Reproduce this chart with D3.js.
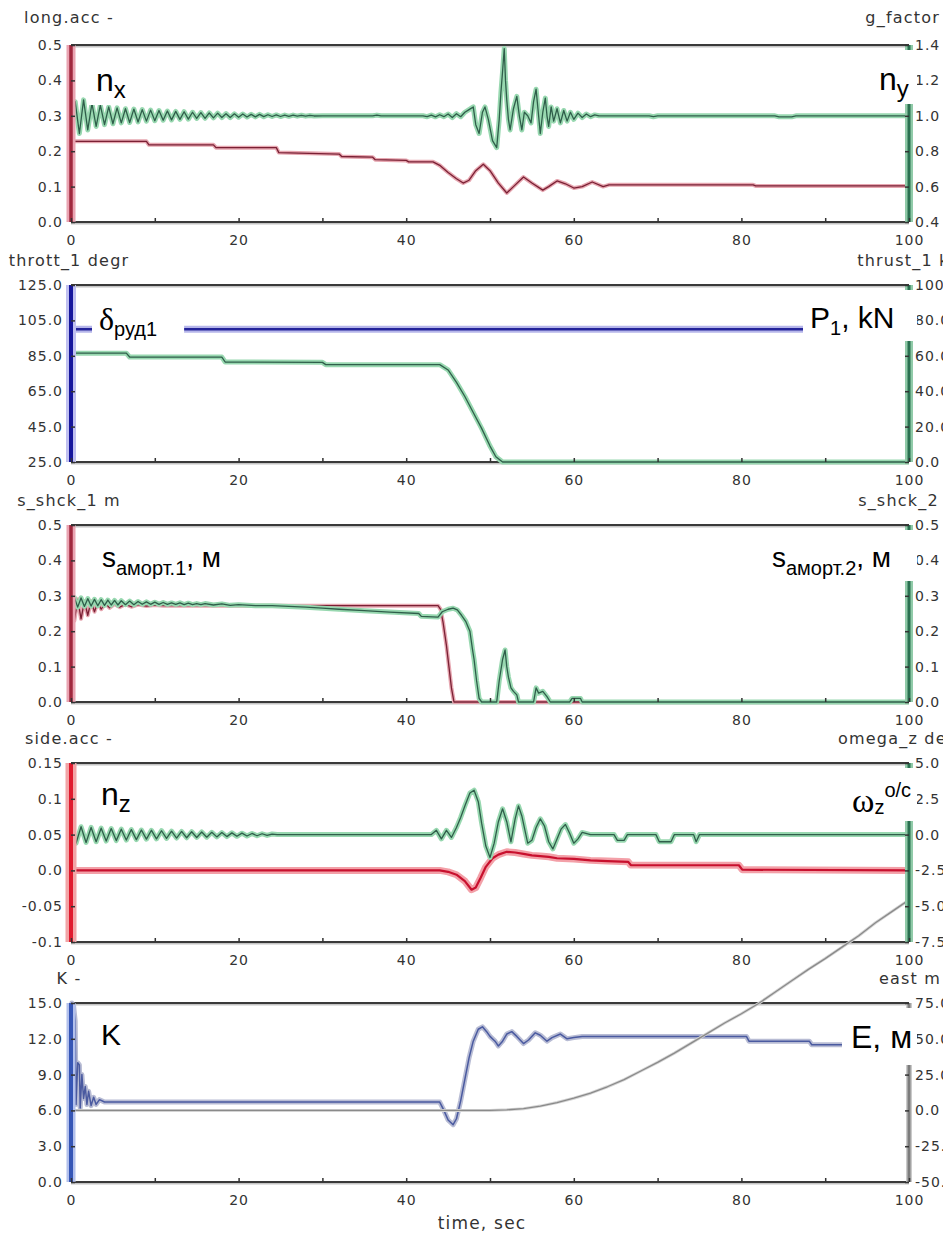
<!DOCTYPE html>
<html>
<head>
<meta charset="utf-8">
<script src="https://cdn.jsdelivr.net/npm/d3@7"></script>
<style>
  body { margin: 0; background: #fff; }
  svg { display: block; }
  .tick text { font-family: "DejaVu Sans", sans-serif; font-size: 14px; fill: #333; letter-spacing: 1px; }
  .ttl { font-family: "DejaVu Sans", sans-serif; font-size: 16px; fill: #333; letter-spacing: 1.2px; }
  .lbl { font-family: Arial, "Liberation Sans", sans-serif; fill: #000; }
</style>
</head>
<body>
<div id="chart"></div>
<script>
(function() {
"use strict";

// ---- data (time sec, value) ----
const X_TICKS = [0, 10, 20, 30, 40, 50, 60, 70, 80, 90, 100];

const longAcc = [[0,0.228],[9,0.228],[9.3,0.218],[17,0.218],[17.3,0.21],[24.5,0.21],[24.8,0.196],[32,0.192],[32.3,0.185],[36,0.183],[36.3,0.176],[40,0.174],[40.3,0.17],[43.2,0.17],[44,0.16],[45,0.14],[46,0.122],[46.8,0.11],[47.5,0.118],[48.3,0.145],[49.2,0.163],[50,0.145],[51,0.11],[52,0.082],[52.8,0.1],[54,0.127],[55,0.11],[56.3,0.09],[57,0.1],[58,0.116],[59,0.108],[60,0.096],[61,0.1],[62.2,0.113],[63.5,0.1],[64.2,0.105],[81.4,0.105],[81.7,0.102],[100,0.102]];

const gFactor = [[0,0.93],[0.5,1.08],[1,0.90],[1.5,1.09],[2,0.92],[2.5,1.07],[3,0.94],[3.5,1.06],[4,0.95],[4.5,1.05],
  [5,0.955],[5.5,1.045],[6,0.96],[6.5,1.04],[7,0.962],[7.5,1.038],[8,0.965],[8.5,1.035],[9,0.97],[9.5,1.032],
  [10,0.972],[10.5,1.03],[11,0.975],[11.5,1.027],[12,0.977],[12.5,1.025],[13,0.98],[13.5,1.023],[14,0.981],[14.5,1.02],
  [15,0.985],[15.5,1.018],[16,0.986],[16.5,1.016],[17,0.988],[17.5,1.015],[18,0.99],[18.5,1.012],[19,0.99],[19.5,1.011],
  [20,0.992],[20.5,1.01],[21,0.993],[21.5,1.008],[22,0.994],[22.5,1.008],[23,0.995],[23.5,1.006],[24,0.996],[24.5,1.005],
  [25,0.996],[25.5,1.004],[26,0.997],[26.5,1.004],[27,0.998],[27.5,1.003],[28,0.998],[28.5,1.002],[29,0.999],[30,1.0],
  [36,1.0],[36.5,1.004],[37,1.0],[42,1.0],[42.5,0.995],[43,1.004],[43.5,0.994],[44,1.006],[44.5,0.995],[45,1.01],
  [45.5,0.99],[46,1.012],[46.5,0.995],[47,1.02],[47.5,1.035],[48,1.05],[48.3,0.95],[48.7,0.90],[49.1,1.02],[49.4,1.05],
  [49.8,0.98],[50.3,0.86],[50.8,0.82],[51.1,0.98],[51.3,1.13],[51.5,1.25],[51.7,1.38],[51.85,1.2],[52,1.09],[52.2,0.98],
  [52.4,0.92],[52.8,1.04],[53.2,1.11],[53.5,1.0],[53.8,0.92],[54.1,1.02],[54.5,1.0],[54.9,0.96],[55.2,1.08],[55.5,1.15],
  [55.8,1.0],[56,0.90],[56.3,1.02],[56.6,1.10],[56.8,1.0],[57,0.94],[57.3,1.05],[57.6,0.97],[58,1.04],[58.4,0.96],
  [58.8,1.03],[59.2,0.97],[59.6,1.02],[60,0.98],[60.5,1.015],[61,0.99],[61.5,1.01],[62,0.995],[62.5,1.005],[63,1.0],
  [69,1.0],[69.5,0.995],[70,1.0],[84,1.0],[84.5,0.994],[86,0.994],[86.5,1.0],[100,1.0]];

const throttle = [[0,100],[100,100]];
const thrust = [[0,61.5],[6.6,61.5],[7.0,59.3],[18,59.3],[18.4,56.5],[30,56.3],[30.4,55.0],[44,55.0],[45,52],[46,45],[47,37],[48,28],[49,19],[50,9],[50.7,3],[51.5,0],[100,0]];

const shock1 = [[0,0.29],[0.4,0.23],[0.8,0.29],[1.2,0.235],[1.6,0.285],[2.0,0.245],[2.4,0.285],[2.8,0.255],[3.2,0.282],[3.6,0.262],[4.1,0.279],[4.6,0.266],[5.2,0.277],[5.8,0.268],[6.5,0.276],[7.2,0.269],[8,0.275],[9,0.271],[10,0.274],[11,0.272],[43.8,0.272],[44.1,0.262],[44.4,0.225],[44.8,0.16],[45.1,0.1],[45.4,0.04],[45.7,0],[100,0]];

const shock2 = [[0,0.27],[0.4,0.295],[0.8,0.268],[1.2,0.294],[1.6,0.27],[2,0.292],[2.4,0.271],[2.8,0.29],[3.2,0.272],[3.6,0.289],
  [4,0.273],[4.4,0.288],[4.8,0.274],[5.2,0.287],[5.6,0.274],[6,0.286],[6.5,0.275],[7,0.285],[7.5,0.275],[8,0.284],
  [8.5,0.276],[9,0.283],[9.5,0.276],[10,0.282],[10.5,0.276],[11,0.281],[11.5,0.276],[12,0.28],[12.5,0.276],[13,0.28],
  [13.5,0.275],[14,0.279],[14.5,0.275],[15,0.278],[15.5,0.275],[16,0.278],[17,0.274],[18,0.277],[19,0.273],[20,0.275],
  [22,0.272],[24,0.272],[26,0.27],[28,0.268],[30,0.265],[32,0.262],[35,0.258],[38,0.254],[41.5,0.25],[41.8,0.242],
  [43.8,0.24],[44.3,0.255],[45,0.262],[45.6,0.265],[46.1,0.26],[46.6,0.245],[47.1,0.228],[47.6,0.2],[47.9,0.15],[48.1,0.12],
  [48.4,0.06],[48.7,0.01],[49,0],[50.8,0],[51.1,0.06],[51.5,0.12],[51.8,0.147],[52,0.1],[52.2,0.07],[52.5,0.04],
  [52.8,0.03],[53.2,0.02],[53.4,0],[55.2,0],[55.5,0.04],[55.8,0.025],[56.3,0.03],[56.8,0.015],[57.2,0],[59.5,0],
  [59.8,0.01],[60.8,0.01],[61,0],[100,0]];

const sideAcc = [[0,0],[44,0],[45,-0.002],[46,-0.006],[47,-0.015],[47.8,-0.027],[48.3,-0.024],[48.9,-0.01],[49.5,0.005],[50.3,0.017],[51,0.022],[52,0.026],[53,0.025],[54,0.023],[55,0.021],[56,0.02],[57,0.019],[58,0.017],[60,0.016],[62,0.014],[64,0.013],[66.5,0.012],[66.8,0.0075],[79.7,0.0072],[80.1,0.001],[100,0]];

const omegaZ = [[0,0.5],[0.6,-0.6],[1.2,0.55],[1.8,-0.55],[2.4,0.5],[3,-0.5],[3.6,0.45],[4.2,-0.45],[4.8,0.42],[5.4,-0.42],
  [6,0.38],[6.6,-0.38],[7.2,0.35],[7.8,-0.35],[8.4,0.32],[9,-0.32],[9.6,0.3],[10.2,-0.3],[10.8,0.27],[11.4,-0.27],
  [12,0.24],[12.6,-0.24],[13.2,0.22],[13.8,-0.22],[14.4,0.2],[15,-0.2],[15.6,0.18],[16.2,-0.18],[16.8,0.16],[17.4,-0.16],
  [18,0.14],[18.6,-0.14],[19.2,0.12],[19.8,-0.12],[20.4,0.1],[21,-0.1],[21.6,0.08],[22.2,-0.08],[22.8,0.06],[23.4,-0.06],
  [24,0.04],[24.6,0],[43,0],[43.6,0.3],[44.2,-0.3],[44.8,0.3],[45.4,-0.2],[46,0.5],[46.5,1.2],[47,2.0],
  [47.6,2.9],[48.1,3.1],[48.6,2.3],[49,0.8],[49.5,-0.8],[50,-1.6],[50.5,-0.6],[51,0.9],[51.5,1.8],[52,0.9],
  [52.5,-0.5],[53,1.1],[53.4,2.0],[53.8,1.3],[54.5,-0.6],[55,-0.4],[55.5,0.5],[56,1.1],[56.5,0.6],[57,-0.5],
  [57.5,-1.0],[58,-0.3],[58.5,0.4],[59,0.7],[59.5,0.1],[60,-0.6],[60.5,-0.3],[61,0.15],[62,0],[64.8,0],
  [65.2,-0.4],[66,-0.4],[66.4,0],[69.8,0],[70.2,-0.5],[71.6,-0.5],[72,0],[74.3,0],[74.6,-0.5],[75,0],[100,0]];

const kCoef = [[0,0],[0.1,15],[0.3,14.8],[0.5,13.5],[0.6,6.5],[0.8,10],[1.0,9.8],[1.1,6.2],[1.3,9],[1.5,7],[1.7,8],[1.9,6.5],[2.1,7.6],[2.4,6.4],[2.7,7.1],[3,6.5],[3.4,6.9],[4,6.7],[44,6.7],[44.5,6.0],[45,5.2],[45.6,4.8],[46,5.3],[46.5,6.8],[47,8.6],[47.5,10.4],[48,11.8],[48.6,12.8],[49.1,13.0],[49.6,12.6],[50,12.2],[50.6,11.8],[51,11.4],[51.5,11.8],[52,12.4],[52.6,12.6],[53.2,12.2],[54,11.6],[54.6,11.9],[55.4,12.5],[56,12.3],[56.8,11.8],[57.4,12.1],[58.4,12.4],[59.2,12.0],[60,12.1],[61,12.2],[80.6,12.2],[80.9,11.8],[88.1,11.8],[88.4,11.5],[92,11.5]];

const east = [[0,0],[50,0],[52,0.4],[54,1.2],[56,3],[58,5.5],[60,8.5],[62,12],[64,16.5],[66,21.5],[68,27.5],[70,33.5],[72,40],[74,47],[76,54],[78,61],[80,67.5],[82,74.5],[84,82.5],[86,90.5],[88,98.5],[90,106],[92,114],[94,122],[96,131],[98,139],[100,147]];

// tick values and their printed labels
const accTicks = [0, 0.1, 0.2, 0.3, 0.4, 0.5], accLabels = ["0.0","0.1","0.2","0.3","0.4","0.5"];
const gTicks = [0.4, 0.6, 0.8, 1.0, 1.2, 1.4], gLabels = ["0.4","0.6","0.8","1.0","1.2","1.4"];
const throtTicks = [25, 45, 65, 85, 105, 125], throtLabels = ["25.0","45.0","65.0","85.0","105.0","125.0"];
const thrustTicks = [0, 20, 40, 60, 80, 100], thrustLabels = ["0.0","20.0","40.0","60.0","80.0","100.0"];
const shockTicks = [0, 0.1, 0.2, 0.3, 0.4, 0.5], shockLabels = ["0.0","0.1","0.2","0.3","0.4","0.5"];
const sideTicks = [-0.1, -0.05, 0, 0.05, 0.1, 0.15], sideLabels = ["-0.1","-0.05","0.0","0.05","0.1","0.15"];
const omegaTicks = [-7.5, -5, -2.5, 0, 2.5, 5], omegaLabels = ["-7.5","-5.0","-2.5","0.0","2.5","5.0"];
const kTicks = [0, 3, 6, 9, 12, 15], kLabels = ["0.0","3.0","6.0","9.0","12.0","15.0"];
const eastTicks = [-50, -25, 0, 25, 50, 75], eastLabels = ["-50.0","-25.0","0.0","25.0","50.0","75.0"];

// ---- styles ----
const RED   = { halo: "#e6a6b0", core: "#7a2034", hw: 4, cw: 1.3 };
const RED2  = { halo: "#f3a0a8", core: "#c8102e", hw: 7, cw: 2.2 };
const GREEN = { halo: "#98d8b0", core: "#2f5e4a", hw: 5, cw: 1.3 };
const BLUE  = { halo: "#b6b6ea", core: "#24249a", hw: 7, cw: 2.5 };
const BLUEK = { halo: "#b8bcd4", core: "#4a5aa0", hw: 5, cw: 1.5 };
const GRAY  = { halo: "#d4d4d4", core: "#8a8a8a", hw: 3, cw: 1.3 };

const barRed   = { halo: "#eaa4b2", core: "#a0283e", hw: 9, cw: 3.5 };
const barRed4  = { halo: "#f2a4a6", core: "#e01a2e", hw: 11, cw: 4 };
const barBlue  = { halo: "#c0c0f0", core: "#16169c", hw: 10, cw: 4 };
const barBlue5 = { halo: "#b2c0ec", core: "#3656b6", hw: 9, cw: 4 };
const barGreen = { halo: "#90caa8", core: "#2a7050", hw: 8, cw: 3 };
const barGray  = { halo: "#cacaca", core: "#7c7c7c", hw: 6, cw: 3 };

const W = 943, H = 1240;
const X0 = 71, X1 = 909;

const panels = [
  { top: 45, bottom: 222, titleUp: 22,
    left:  { domain: [0, 0.5], ticks: accTicks, labels: accLabels, title: "long.acc -", bar: barRed },
    right: { domain: [0.4, 1.4], ticks: gTicks, labels: gLabels, title: "g_factor", bar: barGreen },
    series: [ { data: longAcc, side: "left", st: RED }, { data: gFactor, side: "right", st: GREEN } ] },
  { top: 285, bottom: 462, titleUp: 19,
    left:  { domain: [25, 125], ticks: throtTicks, labels: throtLabels, title: "thrott_1 degr", bar: barBlue },
    right: { domain: [0, 100], ticks: thrustTicks, labels: thrustLabels, title: "thrust_1 kN", bar: barGreen },
    series: [ { data: throttle, side: "left", st: BLUE }, { data: thrust, side: "right", st: GREEN } ] },
  { top: 525, bottom: 702, titleUp: 19,
    left:  { domain: [0, 0.5], ticks: shockTicks, labels: shockLabels, title: "s_shck_1 m", bar: barRed },
    right: { domain: [0, 0.5], ticks: shockTicks, labels: shockLabels, title: "s_shck_2 m", bar: barGreen },
    series: [ { data: shock1, side: "left", st: RED }, { data: shock2, side: "right", st: GREEN } ] },
  { top: 763, bottom: 942, titleUp: 19,
    left:  { domain: [-0.1, 0.15], ticks: sideTicks, labels: sideLabels, title: "side.acc -", bar: barRed4 },
    right: { domain: [-7.5, 5], ticks: omegaTicks, labels: omegaLabels, title: "omega_z degr/s", bar: barGreen },
    series: [ { data: sideAcc, side: "left", st: RED2 }, { data: omegaZ, side: "right", st: GREEN } ] },
  { top: 1003, bottom: 1182, titleUp: 19,
    left:  { domain: [0, 15], ticks: kTicks, labels: kLabels, title: "K -", bar: barBlue5 },
    right: { domain: [-50, 75], ticks: eastTicks, labels: eastLabels, title: "east m", bar: barGray },
    series: [ { data: kCoef, side: "left", st: BLUEK }, { data: east, side: "right", st: GRAY } ] }
];

const svg = d3.select("#chart").append("svg")
  .attr("width", W).attr("height", H);

const x = d3.scaleLinear().domain([0, 100]).range([X0, X1]);

function strokeLine(g, d, st) {
  g.append("path").attr("d", d).attr("fill", "none")
    .attr("stroke", st.halo).attr("stroke-width", st.hw).attr("stroke-linejoin", "round");
  g.append("path").attr("d", d).attr("fill", "none")
    .attr("stroke", st.core).attr("stroke-width", st.cw).attr("stroke-linejoin", "round");
}

const seriesLayer = svg.append("g");
const barLayer = svg.append("g");
const axisLayer = svg.append("g");
const labelLayer = svg.append("g");

panels.forEach(p => {
  const yL = d3.scaleLinear().domain(p.left.domain).range([p.bottom, p.top]);
  const yR = d3.scaleLinear().domain(p.right.domain).range([p.bottom, p.top]);

  // frame: top and bottom
  [p.top, p.bottom].forEach(yy => {
    seriesLayer.append("line").attr("x1", X0).attr("x2", X1).attr("y1", yy + 1.5).attr("y2", yy + 1.5)
      .attr("stroke", "#c4c4c4").attr("stroke-width", 2);
    seriesLayer.append("line").attr("x1", X0).attr("x2", X1).attr("y1", yy).attr("y2", yy)
      .attr("stroke", "#3a3a3a").attr("stroke-width", 1.8);
  });

  // series
  p.series.forEach(s => {
    const y = s.side === "left" ? yL : yR;
    const line = d3.line().x(d => x(d[0])).y(d => y(d[1]));
    strokeLine(seriesLayer, line(s.data), s.st);
  });

  // coloured axis bars
  [[X0, p.left.bar], [X1, p.right.bar]].forEach(([bx, st]) => {
    strokeLine(barLayer, `M${bx},${p.top}L${bx},${p.bottom}`, st);
  });

  // axes
  axisLayer.append("g")
    .attr("transform", `translate(0,${p.bottom})`)
    .attr("color", "#333")
    .call(d3.axisBottom(x).tickValues(X_TICKS).tickSize(-4).tickPadding(13)
      .tickFormat(d => d % 20 === 0 ? d : ""))
    .call(a => a.select(".domain").remove())
    .call(a => a.selectAll(".tick line").attr("stroke-width", 1.5));

  axisLayer.append("g")
    .attr("transform", `translate(${X0},0)`)
    .attr("color", "#333")
    .call(d3.axisLeft(yL).tickValues(p.left.ticks).tickSize(-4).tickPadding(8)
      .tickFormat((d, i) => p.left.labels[i]))
    .call(a => a.select(".domain").remove())
    .call(a => a.selectAll(".tick line").attr("stroke-width", 1.5));

  axisLayer.append("g")
    .attr("transform", `translate(${X1},0)`)
    .attr("color", "#333")
    .call(d3.axisRight(yR).tickValues(p.right.ticks).tickSize(-4).tickPadding(6)
      .tickFormat((d, i) => p.right.labels[i]))
    .call(a => a.select(".domain").remove())
    .call(a => a.selectAll(".tick line").attr("stroke-width", 1.5));

  // axis titles
  axisLayer.append("text").attr("class", "ttl")
    .attr("x", X0 - 2).attr("y", p.top - p.titleUp).attr("text-anchor", "middle")
    .text(p.left.title);
  const rt = axisLayer.append("text").attr("class", "ttl")
    .attr("y", p.top - p.titleUp).text(p.right.title);
  if (p.right.title === "g_factor") rt.attr("x", 940).attr("text-anchor", "end");
  else rt.attr("x", X1 + 1).attr("text-anchor", "middle");
});

axisLayer.append("text").attr("class", "ttl")
  .attr("x", 482).attr("y", 1229).attr("text-anchor", "middle")
  .style("font-size", "17px")
  .text("time, sec");

// ---- overlay labels with white boxes ----
const LABELS = [
  { p: 0, x: 96,  y: 91,   parts: [{ t: "n", s: 32 }, { t: "x", s: 24, dy: 7 }] },
  { p: 0, x: 879, y: 90,   right: true, parts: [{ t: "n", s: 32 }, { t: "y", s: 24, dy: 7 }] },
  { p: 1, x: 99,  y: 330,  padR: 20, parts: [{ t: "δ", s: 32, serif: true }, { t: "руд1", s: 20, dy: 6 }] },
  { p: 1, x: 810, y: 328,  right: true, parts: [{ t: "P", s: 30 }, { t: "1", s: 20, dy: 7 }, { t: ", kN", s: 30, dy: 0 }] },
  { p: 2, x: 102, y: 567,  parts: [{ t: "s", s: 28 }, { t: "аморт.1", s: 20, dy: 8 }, { t: ", м", s: 28, dy: 0 }] },
  { p: 2, x: 772, y: 567,  right: true, parts: [{ t: "s", s: 28 }, { t: "аморт.2", s: 20, dy: 8 }, { t: ", м", s: 28, dy: 0 }] },
  { p: 3, x: 101, y: 805,  parts: [{ t: "n", s: 32 }, { t: "z", s: 24, dy: 7 }] },
  { p: 3, x: 852, y: 812,  right: true, parts: [{ t: "ω", s: 34, serif: true }, { t: "z", s: 20, dy: 2 }, { t: "o/c", s: 20, dy: -15 }] },
  { p: 4, x: 101, y: 1045, parts: [{ t: "K", s: 30 }] },
  { p: 4, x: 851, y: 1048, right: true, padB: 8, parts: [{ t: "E, м", s: 32 }] }
];

LABELS.forEach(l => {
  const g = labelLayer.append("g");
  const rect = g.append("rect").attr("fill", "#fff");
  const txt = g.append("text").attr("class", "lbl").attr("x", l.x).attr("y", l.y);
  l.parts.forEach(pt => {
    txt.append("tspan")
      .attr("y", l.y + (pt.dy || 0))
      .style("font-size", pt.s + "px")
      .style("font-family", pt.serif ? '"Liberation Serif", "DejaVu Serif", serif' : null)
      .text(pt.t);
  });
  const bb = txt.node().getBBox();
  const p = panels[l.p];
  const bx = bb.x - 7;
  const by = l.right ? p.top + 5 : bb.y - 2;
  const bw = l.right ? (X1 + 8 - bx) : bb.width + 14 + (l.padR || 0);
  const bh = bb.y + bb.height + 2 + (l.padB || 0) - by;
  rect.attr("x", bx).attr("y", by).attr("width", bw).attr("height", bh);
});

})();
</script>
</body>
</html>
